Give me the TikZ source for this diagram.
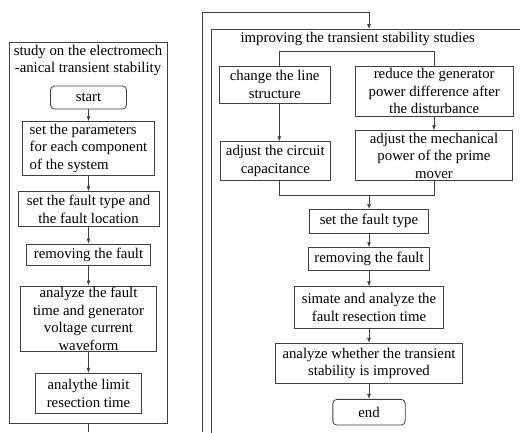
\documentclass[tikz,border=0pt]{standalone}
\usepackage{fontspec}
\setmainfont{Liberation Serif}
\usetikzlibrary{arrows.meta}

\tikzset{
		flow/.style={
			x=1pt, y=-1pt,
			line width=0.8pt, draw=black!75,
			every node/.style={align=center, inner sep=0pt, font=\fontsize{14.8}{17.6}\selectfont},
			>={Latex[length=5pt,width=4pt]}
		},
		stepbox/.style={draw=black!75, rectangle},
		termbox/.style={draw=black!75, rounded corners=4pt},
		groupbox/.style={draw=black!75, rectangle, anchor=north west}
	}

\begin{document}
\begin{tikzpicture}[flow]
				\useasboundingbox (0,0) rectangle (520,432);
				\clip (0,0) rectangle (520,432);
				% left column
				\node[groupbox, minimum width=157.4, minimum height=380.4] (study) at (9.3,42.3) {};
				\node (studyt) at (88,60.5) {study on the electromech\\-anical transient stability};
				\node[termbox, minimum width=76, minimum height=23] (start) at (88.5,97.5) {start};
				\node[stepbox, align=left, minimum width=131.3, minimum height=53.3] (par) at (88.5,148.3)
					{set the parameters\\for each component\\of the system};
				\node[stepbox, minimum width=141, minimum height=35] (ft) at (88.5,209.2)
					{set the fault type and\\the fault location};
				\node[stepbox, minimum width=124, minimum height=21] (rm) at (88.5,254.5) {removing the fault};
				\node[stepbox, minimum width=136, minimum height=65.7] (wave) at (88.5,318.8)
					{analyze the fault\\time and generator\\voltage current\\waveform};
				\node[stepbox, minimum width=105.7, minimum height=40] (lim) at (88.5,393.3)
					{analythe limit\\resection time};
				\draw[->] (start) -- (par);
				\draw[->] (par) -- (ft);
				\draw[->] (ft) -- (rm);
				\draw[->] (rm) -- (wave);
				\draw[->] (wave) -- (lim);
				\coordinate (lout) at (88.5,432);
				\draw (study.south -| lout) -- (lout);
				% right column
				\node[groupbox, minimum width=330, minimum height=420] (impr) at (210.7,29) {};
				\node (imprt) at (357.7,39) {improving the transient stability studies};
				\coordinate (rin) at (202,432);
				\coordinate (ltop) at (369,12.7);
				\draw[->] (rin) |- (ltop) -- (ltop |- impr.north);
				\node[stepbox, minimum width=110.7, minimum height=37.3] (chg) at (274.7,84.7)
					{change the line\\structure};
				\node[stepbox, minimum width=158.3, minimum height=50.7] (red) at (434.2,91.3)
					{reduce the generator\\power difference after\\the disturbance};
				\node[stepbox, minimum width=109.3, minimum height=38.3] (cap) at (275.3,160.8)
					{adjust the circuit\\capacitance};
				\node[stepbox, minimum width=156.6, minimum height=50] (mech) at (434,155.7)
					{adjust the mechanical\\power of the prime\\mover};
				\coordinate (spl) at (279.3,51.7);
				\coordinate (spr) at (434,51.7);
				\draw (spl |- chg.north) -- (spl) -- (spr) -- (spr |- red.north);
				\draw[->] (spl |- chg.south) -- (spl |- cap.north);
				\draw[->] (spr |- red.south) -- (spr |- mech.north);
				\coordinate (mrg) at (369,195);
				\draw (spl |- cap.south) -- (spl |- mrg) -- (spr |- mrg) -- (spr |- mech.south);
				\node[stepbox, minimum width=119, minimum height=24] (ft2) at (369,221.3) {set the fault type};
				\node[stepbox, minimum width=121.7, minimum height=23] (rm2) at (369,259.2) {removing the fault};
				\node[stepbox, minimum width=149, minimum height=41.6] (sim) at (369,307.5)
					{simate and analyze the\\fault resection time};
				\node[stepbox, minimum width=186.3, minimum height=40] (impd) at (369,363.3)
					{analyze whether the transient\\stability is improved};
				\node[termbox, minimum width=72.3, minimum height=25.7] (fin) at (369,412.2) {end};
				\draw[->] (mrg) -- (ft2);
				\draw[->] (ft2) -- (rm2);
				\draw[->] (rm2) -- (sim);
				\draw[->] (sim) -- (impd);
				\draw[->] (impd) -- (fin);
			\end{tikzpicture}
\end{document}
